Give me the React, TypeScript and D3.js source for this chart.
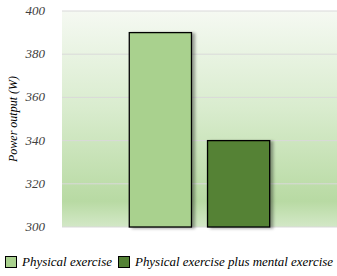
import React from "react";
import * as d3 from "d3";

const categories = ["Physical exercise", "Physical exercise plus mental exercise"];
const values = [390, 340];
const colors = ["#a9d18e", "#548235"];
const yTicks = [300, 320, 340, 360, 380, 400];
const yTitle = "Power output (W)";

export default function App() {
  const W = 337, H = 276;
  const left = 62, right = 337, top = 11, bottom = 227;
  const y = d3.scaleLinear().domain([300, 400]).range([bottom, top]);
  const x = d3.scaleBand().domain(categories).range([left, right]).paddingInner(0.205).paddingOuter(0.86);
  const font = "'Liberation Serif', serif";
  const legendX = [5, 118];
  const legendW = [90, 198];
  return (
    <svg width={W} height={H} style={{ position: "absolute", left: 0, top: 0 }}>
      <defs>
        <linearGradient id="bg" x1="0" y1="0" x2="0" y2="1">
          <stop offset="0" stopColor="#f5f9f2" />
          <stop offset="0.45" stopColor="#d9ecce" />
          <stop offset="0.88" stopColor="#b8daa3" />
          <stop offset="1" stopColor="#d3e8c7" />
        </linearGradient>
        <filter id="sh" x="-20%" y="-20%" width="150%" height="150%">
          <feGaussianBlur in="SourceAlpha" stdDeviation="1.5" />
          <feOffset dx="3" dy="1" />
          <feComponentTransfer><feFuncA type="linear" slope="0.35" /></feComponentTransfer>
          <feMerge><feMergeNode /><feMergeNode in="SourceGraphic" /></feMerge>
        </filter>
      </defs>
      <rect x={0} y={0} width={W} height={H} fill="#fff" />
      <rect x={left} y={top} width={right - left} height={bottom - top} fill="url(#bg)" />
      {yTicks.map((t) => (
        <line key={t} x1={left} x2={right} y1={y(t)} y2={y(t)} stroke="#d9d9d9" strokeWidth={1} />
      ))}
      {yTicks.map((t) => (
        <text key={"l" + t} x={45} y={y(t) + 4} textAnchor="end" fontFamily={font} fontStyle="italic" fontSize={13} fill="#404040">{t}</text>
      ))}
      <text transform={`translate(17,${(top + bottom) / 2}) rotate(-90)`} textAnchor="middle" fontFamily={font} fontStyle="italic" fontSize={12} fill="#000">{yTitle}</text>
      {categories.map((c, i) => (
        <rect key={c} x={x(c)!} y={y(values[i])} width={x.bandwidth()} height={bottom - y(values[i])} fill={colors[i]} stroke="#000" strokeWidth={1.3} filter="url(#sh)" />
      ))}
      {categories.map((c, i) => (
        <g key={"lg" + c}>
          <rect x={legendX[i] + 0.5} y={256.5} width={11} height={11} fill={colors[i]} stroke="#000" strokeWidth={1} />
          <text x={legendX[i] + 17} y={266} fontFamily={font} fontStyle="italic" fontSize={12} fill="#000" textLength={legendW[i]} lengthAdjust="spacingAndGlyphs">{c}</text>
        </g>
      ))}
    </svg>
  );
}
